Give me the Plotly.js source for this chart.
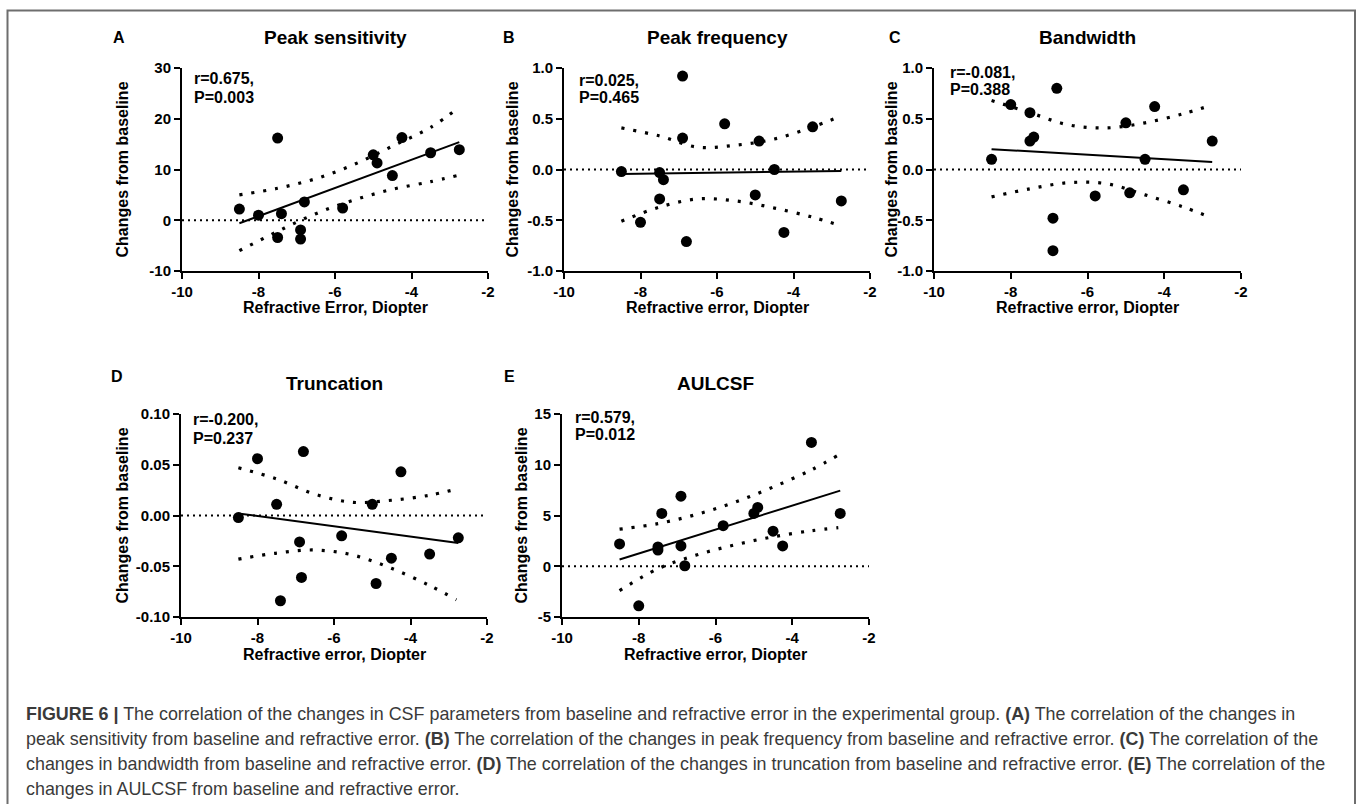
<!DOCTYPE html>
<html><head><meta charset="utf-8">
<script src="https://cdn.plot.ly/plotly-3.0.1.min.js"></script>
<style>html,body{margin:0;padding:0;background:#fff}#chart{width:1358px;height:804px}</style>
</head><body><div id="chart"></div>
<script>
// ---------- DATA ----------
const xTickVals = [-10, -8, -6, -4, -2];
const xTickText = ['-10', '-8', '-6', '-4', '-2'];

const panelTitles = ['Peak sensitivity', 'Peak frequency', 'Bandwidth', 'Truncation', 'AULCSF'];
const panelLetters = ['A', 'B', 'C', 'D', 'E'];
const xTitles = ['Refractive Error, Diopter', 'Refractive error, Diopter', 'Refractive error, Diopter', 'Refractive error, Diopter', 'Refractive error, Diopter'];
const yTitle = 'Changes from baseline';
const statR = ['r=0.675,', 'r=0.025,', 'r=-0.081,', 'r=-0.200,', 'r=0.579,'];
const statP = ['P=0.003', 'P=0.465', 'P=0.388', 'P=0.237', 'P=0.012'];

// Panel A: peak sensitivity
const xA = [-8.5, -8.0, -7.5, -7.4, -7.5, -6.9, -6.9, -6.8, -5.8, -5.0, -4.9, -4.5, -4.25, -3.5, -2.75];
const yA = [2.2, 1.0, 16.2, 1.3, -3.4, -1.9, -3.7, 3.6, 2.4, 12.9, 11.3, 8.8, 16.3, 13.3, 13.9];
// Panel B: peak frequency
const xB = [-8.5, -8.0, -7.5, -7.5, -7.4, -6.9, -6.9, -6.8, -5.8, -5.0, -4.9, -4.5, -4.25, -3.5, -2.75];
const yB = [-0.02, -0.52, -0.29, -0.03, -0.10, 0.92, 0.31, -0.71, 0.45, -0.25, 0.28, 0.0, -0.62, 0.42, -0.31];
// Panel C: bandwidth
const xC = [-8.5, -8.0, -7.5, -7.5, -7.4, -6.8, -6.9, -6.9, -5.8, -5.0, -4.9, -4.5, -4.25, -3.5, -2.75];
const yC = [0.10, 0.64, 0.56, 0.28, 0.32, 0.80, -0.48, -0.80, -0.26, 0.46, -0.23, 0.10, 0.62, -0.20, 0.28];
// Panel D: truncation
const xD = [-8.5, -8.0, -7.5, -7.4, -6.9, -6.85, -6.8, -5.8, -5.0, -4.9, -4.5, -4.25, -3.5, -2.75];
const yD = [-0.002, 0.056, 0.011, -0.084, -0.026, -0.061, 0.063, -0.020, 0.011, -0.067, -0.042, 0.043, -0.038, -0.022];
// Panel E: AULCSF
const xE = [-8.5, -8.0, -7.5, -7.5, -7.4, -6.9, -6.9, -6.8, -5.8, -5.0, -4.9, -4.5, -4.25, -3.5, -2.75];
const yE = [2.2, -3.9, 1.6, 1.9, 5.2, 6.9, 2.0, 0.05, 4.0, 5.2, 5.8, 3.45, 2.0, 12.2, 5.2];

// Regression lines (end points)
const fitX = [-8.5, -2.75];
const fitA = [-0.6, 15.4];
const fitB = [-0.045, -0.015];
const fitC = [0.20, 0.075];
const fitD = [0.002, -0.027];
const fitE = [0.66, 7.45];

// 95% confidence bands
const ciX = [-8.5, -7.5, -6.5, -5.5, -4.5, -3.5, -2.8];
const ciUpA = [5.0, 6.3, 8.2, 11.0, 14.6, 18.3, 22.0];
const ciLoA = [-6.0, -2.2, 1.3, 4.0, 6.1, 7.6, 8.8];
const ciUpB = [0.41, 0.33, 0.22, 0.24, 0.30, 0.42, 0.52];
const ciLoB = [-0.51, -0.37, -0.29, -0.31, -0.38, -0.47, -0.55];
const ciUpC = [0.68, 0.56, 0.44, 0.41, 0.46, 0.55, 0.63];
const ciLoC = [-0.27, -0.19, -0.13, -0.14, -0.25, -0.37, -0.47];
const ciUpD = [0.047, 0.036, 0.021, 0.013, 0.015, 0.020, 0.026];
const ciLoD = [-0.043, -0.037, -0.034, -0.039, -0.052, -0.069, -0.083];
const ciUpE = [3.65, 4.2, 5.1, 6.3, 7.8, 9.5, 10.95];
const ciLoE = [-2.4, -0.25, 1.1, 2.1, 2.9, 3.5, 3.8];

// y-axis ticks
const yTickValsA = [-10, 0, 10, 20, 30];
const yTickTextA = ['-10', '0', '10', '20', '30'];
const yTickValsB = [-1.0, -0.5, 0.0, 0.5, 1.0];
const yTickTextB = ['-1.0', '-0.5', '0.0', '0.5', '1.0'];
const yTickValsD = [-0.10, -0.05, 0.00, 0.05, 0.10];
const yTickTextD = ['-0.10', '-0.05', '0.00', '0.05', '0.10'];
const yTickValsE = [-5, 0, 5, 10, 15];
const yTickTextE = ['-5', '0', '5', '10', '15'];

const captionLines = [
  '<b>FIGURE 6 |</b> The correlation of the changes in CSF parameters from baseline and refractive error in the experimental group. <b>(A)</b> The correlation of the changes in',
  'peak sensitivity from baseline and refractive error. <b>(B)</b> The correlation of the changes in peak frequency from baseline and refractive error. <b>(C)</b> The correlation of the',
  'changes in bandwidth from baseline and refractive error. <b>(D)</b> The correlation of the changes in truncation from baseline and refractive error. <b>(E)</b> The correlation of the',
  'changes in AULCSF from baseline and refractive error.'
];

// ---------- LAYOUT / STYLE ----------
const W = 1358, H = 804;
const FONT = 'Arial, "Liberation Sans", Helvetica, sans-serif';
const px = v => v / W;
const py = v => 1 - v / H;

const panels = [
  {x: xA, y: yA, fy: fitA, up: ciUpA, lo: ciLoA, yr: [-10, 30], tv: yTickValsA, tt: yTickTextA,
   box: [182, 488, 68, 271], letter: [119, 38], title: 38, yt: 122, stat: [192, 79], xt: 308},
  {x: xB, y: yB, fy: fitB, up: ciUpB, lo: ciLoB, yr: [-1, 1], tv: yTickValsB, tt: yTickTextB,
   box: [564, 870, 68, 271], letter: [509, 38], title: 38, yt: 512, stat: [577, 80], xt: 308},
  {x: xC, y: yC, fy: fitC, up: ciUpC, lo: ciLoC, yr: [-1, 1], tv: yTickValsB, tt: yTickTextB,
   box: [934, 1241, 68, 271], letter: [895, 38], title: 38, yt: 891, stat: [948, 72], xt: 308},
  {x: xD, y: yD, fy: fitD, up: ciUpD, lo: ciLoD, yr: [-0.1, 0.1], tv: yTickValsD, tt: yTickTextD,
   box: [181, 487, 414, 617], letter: [117, 376], title: 383, yt: 122, stat: [191, 420], xt: 654},
  {x: xE, y: yE, fy: fitE, up: ciUpE, lo: ciLoE, yr: [-5, 15], tv: yTickValsE, tt: yTickTextE,
   box: [562, 869, 414, 617], letter: [509, 376], title: 383, yt: 521, stat: [573, 417], xt: 654}
];

const traces = [];
const layout = {
  width: W, height: H, margin: {l: 0, r: 0, t: 0, b: 0},
  paper_bgcolor: '#fff', plot_bgcolor: 'rgba(0,0,0,0)',
  showlegend: false, font: {family: FONT, color: '#000'},
  annotations: [], shapes: []
};

const dotBand = {color: '#000', width: 3.2, dash: '3px,9px', shape: 'spline', smoothing: 1};

panels.forEach((p, i) => {
  const n = i === 0 ? '' : String(i + 1);
  const xa = 'x' + n, ya = 'y' + n;
  const [l, r, t, b] = p.box;
  const tickFont = {family: FONT, size: 15, weight: 'bold', color: '#000'};
  layout['xaxis' + n] = {
    domain: [px(l), px(r)], anchor: ya, range: [-10, -2],
    tickvals: xTickVals, ticktext: xTickText,
    showline: true, linewidth: 2, linecolor: '#000', mirror: false,
    ticks: 'outside', ticklen: 6, tickwidth: 2, tickcolor: '#000',
    showgrid: false, zeroline: false, tickfont: tickFont, fixedrange: true
  };
  layout['yaxis' + n] = {
    domain: [py(b), py(t)], anchor: xa, range: p.yr,
    tickvals: p.tv, ticktext: p.tt,
    showline: true, linewidth: 2, linecolor: '#000',
    ticks: 'outside', ticklen: 6, tickwidth: 2, tickcolor: '#000',
    showgrid: false, zeroline: false, tickfont: tickFont, fixedrange: true
  };
  // zero reference line (dotted)
  layout.shapes.push({type: 'line', xref: xa + ' domain', yref: ya, x0: 0, x1: 1, y0: 0, y1: 0,
    line: {color: '#000', width: 2, dash: '2px,4px'}, layer: 'below'});
  // confidence bands
  traces.push({x: ciX, y: p.up, xaxis: xa, yaxis: ya, mode: 'lines', line: dotBand, hoverinfo: 'skip'});
  traces.push({x: ciX, y: p.lo, xaxis: xa, yaxis: ya, mode: 'lines', line: dotBand, hoverinfo: 'skip'});
  // regression line
  traces.push({x: fitX, y: p.fy, xaxis: xa, yaxis: ya, mode: 'lines', line: {color: '#000', width: 2}, hoverinfo: 'skip'});
  // points
  traces.push({x: p.x, y: p.y, xaxis: xa, yaxis: ya, mode: 'markers', cliponaxis: false,
    marker: {color: '#000', size: 11, line: {width: 0}}});

  const A = layout.annotations;
  A.push({xref: 'paper', yref: 'paper', x: px(p.letter[0]), y: py(p.letter[1]), xanchor: 'center', yanchor: 'middle',
    text: '<b>' + panelLetters[i] + '</b>', showarrow: false, font: {family: FONT, size: 16, color: '#000'}});
  A.push({xref: 'paper', yref: 'paper', x: px((l + r) / 2), y: py(p.title), xanchor: 'center', yanchor: 'middle',
    text: '<b>' + panelTitles[i] + '</b>', showarrow: false, font: {family: FONT, size: 19, color: '#000'}});
  A.push({xref: 'paper', yref: 'paper', x: px(p.yt), y: py((t + b) / 2), xanchor: 'center', yanchor: 'middle',
    textangle: -90, text: '<b>' + yTitle + '</b>', showarrow: false, font: {family: FONT, size: 16, color: '#000'}});
  A.push({xref: 'paper', yref: 'paper', x: px((l + r) / 2), y: py(p.xt), xanchor: 'center', yanchor: 'middle',
    text: '<b>' + xTitles[i] + '</b>', showarrow: false, font: {family: FONT, size: 16, color: '#000'}});
  A.push({xref: 'paper', yref: 'paper', x: px(p.stat[0]), y: py(p.stat[1]), xanchor: 'left', yanchor: 'middle',
    text: '<b>' + statR[i] + '</b>', showarrow: false, font: {family: FONT, size: 16, color: '#000'}});
  A.push({xref: 'paper', yref: 'paper', x: px(p.stat[0]), y: py(p.stat[1] + 18), xanchor: 'left', yanchor: 'middle',
    text: '<b>' + statP[i] + '</b>', showarrow: false, font: {family: FONT, size: 16, color: '#000'}});
});

// caption
const capY = [714, 739, 764, 789];
captionLines.forEach((txt, k) => {
  layout.annotations.push({xref: 'paper', yref: 'paper', x: px(24), y: py(capY[k]), xanchor: 'left', yanchor: 'middle',
    text: txt, showarrow: false, align: 'left', font: {family: FONT, size: 17.9, color: '#3a3a3a'}});
});

// outer frame (open at the bottom, as cropped in the reference)
layout.shapes.push({type: 'path', xref: 'paper', yref: 'paper',
  path: `M ${px(7.5)} ${py(812)} L ${px(7.5)} ${py(10.5)} L ${px(1355)} ${py(10.5)} L ${px(1355)} ${py(812)}`,
  line: {color: '#6e6e6e', width: 2}});

Plotly.newPlot('chart', traces, layout, {staticPlot: true, displayModeBar: false});
</script>
</body></html>
